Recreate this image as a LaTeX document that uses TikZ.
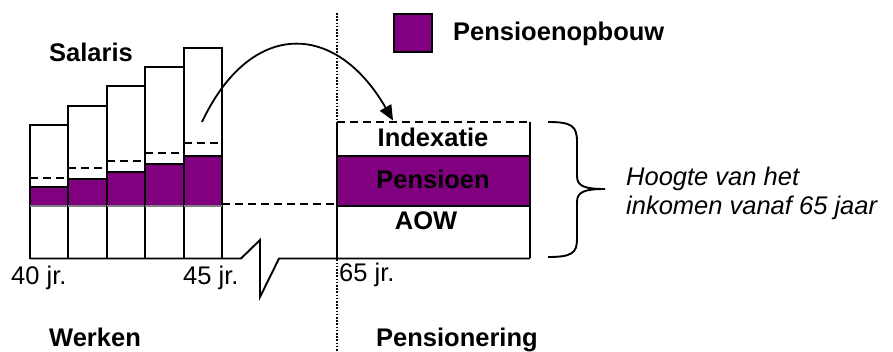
\documentclass[tikz,border=0pt]{standalone}
\usepackage{fontspec}
\setmainfont{Liberation Sans}
\usetikzlibrary{arrows.meta}
\definecolor{paars}{RGB}{128,0,128}
\begin{document}
\begin{tikzpicture} [x=1pt,y=-1pt,
  lijn/.style={line width=1.9pt},
  stippel/.style={line width=1.8pt,dash pattern=on 8pt off 5pt},
  punt/.style={line width=2pt,dash pattern=on 1.6pt off 1.6pt},
  tekst/.style={inner sep=0pt,anchor=base west,font=\fontsize{25.5}{29}\selectfont},
  vet/.style={tekst,font=\fontsize{25.5}{29}\selectfont\bfseries},
  schuin/.style={tekst,font=\fontsize{25.5}{29}\selectfont\itshape}]
\useasboundingbox (0,0) rectangle (893,352);
% salaris per jaar
\foreach \i/\top/\index/\opb in {0/124.7/177.7/186.7, 1/105.7/168.3/179,
    2/86.3/161/171.7, 3/67.3/153.3/163.7, 4/48/143.3/155.7} {
  \fill [paars] (30+38.4*\i,\opb) rectangle (68.4+38.4*\i,206);
  \draw [lijn] (30+38.4*\i,\top) rectangle (68.4+38.4*\i,258.5);
  \draw [lijn] (30+38.4*\i,\opb) -- (68.4+38.4*\i,\opb);
  \draw [line width=1.2pt,gray] (30+38.4*\i,206) -- (68.4+38.4*\i,206);
  \draw [stippel] (30+38.4*\i,\index) -- (68.4+38.4*\i,\index);
}
% scheiding werken / pensionering
\draw [punt] (336.5,13) -- (336.5,352);
% as met onderbreking
\coordinate (knik1) at (241,258.5);
\coordinate (knik2) at (260,240);
\coordinate (knik3) at (260,297);
\coordinate (knik4) at (279,258.5);
\draw [lijn] (30,258.5) -- (knik1) -- (knik2) -- (knik3) -- (knik4) -- (530,258.5);
\draw [stippel] (222,204) -- (337,204);
% pensioen vanaf 65
\fill [paars] (337,156) rectangle (530,206);
\draw [lijn] (337,122) -- (337,258.5);
\draw [lijn] (530,122) -- (530,258.5);
\draw [lijn] (337,156) -- (530,156);
\draw [lijn] (337,206) -- (530,206);
\draw [stippel] (337,122) -- (530,122);
\node [vet,anchor=base] (indexatie) at (433,146.7) {Indexatie};
\node [vet,anchor=base] (pensioen) at (433,188.3) {Pensioen};
\node [vet,anchor=base] (aow) at (426,229.3) {AOW};
% overgang
\coordinate (boogbegin) at (202,122);
\coordinate (boogeind) at (393,120.5);
\draw [line width=1.8pt,-{Triangle[length=15pt,width=13pt]}] (boogbegin)
  .. controls (250,20) and (335,20) .. (boogeind);
% accolade
\coordinate (accboven) at (548,122);
\coordinate (accpunt) at (605,189);
\coordinate (acconder) at (548,257);
\draw [lijn] (accboven) .. controls (572,122) and (577,126) .. (577,142)
  -- (577,176) .. controls (577,186) and (584,189) .. (accpunt)
  .. controls (584,189) and (577,192) .. (577,202)
  -- (577,239) .. controls (577,253) and (572,257) .. (acconder);
\node [schuin] (hoogte1) at (626,186) {Hoogte van het};
\node [schuin] (hoogte2) at (626,215) {inkomen vanaf 65 jaar};
% labels
\node [vet] (salaris) at (49,62) {Salaris};
\node [tekst] (j40) at (11,284) {40 jr.};
\node [tekst] (j45) at (183,284) {45 jr.};
\node [tekst] (j65) at (339,282) {65 jr.};
\node [vet] (werken) at (49,346.5) {Werken};
\node [vet] (pensionering) at (376,346.5) {Pensionering};
% legenda
\node [draw,line width=1.8pt,fill=paars,minimum size=38pt,inner sep=0pt] (legenda) at (413.3,32.8) {};
\node [vet] (opbouw) at (453,40.5) {Pensioenopbouw};
\end{tikzpicture}
\end{document}
